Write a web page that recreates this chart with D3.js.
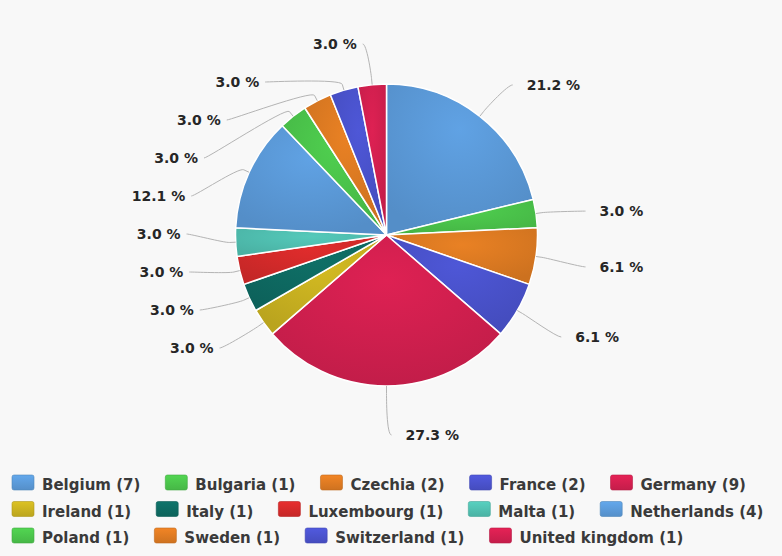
<!DOCTYPE html>
<html>
<head>
<meta charset="utf-8">
<script src="https://cdn.jsdelivr.net/npm/d3@7"></script>
<style>
html,body{margin:0;padding:0;background:#f8f8f8;}
svg{display:block;}
</style>
</head>
<body>
<svg id="chart" width="782" height="556"></svg>
<script>
// ---- data ----
const countries = ["Belgium","Bulgaria","Czechia","France","Germany","Ireland","Italy","Luxembourg","Malta","Netherlands","Poland","Sweden","Switzerland","United kingdom"];
const counts = [7,1,2,2,9,1,1,1,1,4,1,1,1,1];
const palette = ["#5b9ad8","#4bc44b","#dd7a22","#4a52cc","#d21f4f","#c9b120","#0e6a62","#d42a2a","#50bfb0"];

// ---- layout ----
const W = 782, H = 556;
const cx = 386.5, cy = 235, r = 151, labelDist = 45, R = r + labelDist;
const svg = d3.select("#chart");
svg.append("rect").attr("width", W).attr("height", H).attr("fill", "#f8f8f8");

const data = countries.map((c, i) => ({ name: c, count: counts[i], i }));
const total = d3.sum(counts);
const color = d3.scaleOrdinal(countries, palette);
const pct = v => d3.format(".1f")(v / total * 100) + " %";

const defs = svg.append("defs");
data.forEach(d => {
  const base = d3.color(color(d.name));
  const g = defs.append("radialGradient").attr("id", "g" + d.i)
    .attr("cx", 0.5).attr("cy", 0.3).attr("r", 0.7);
  g.append("stop").attr("offset", 0).attr("stop-color", base.brighter(0.15).formatHex());
  g.append("stop").attr("offset", 1).attr("stop-color", base.darker(0.22).formatHex());
  const lg = defs.append("linearGradient").attr("id", "l" + d.i).attr("x1", 0).attr("y1", 0).attr("x2", 0).attr("y2", 1);
  lg.append("stop").attr("offset", 0).attr("stop-color", base.brighter(0.25).formatHex());
  lg.append("stop").attr("offset", 1).attr("stop-color", base.darker(0.2).formatHex());
});

const pie = d3.pie().sort(null).value(d => d.count);
const arcs = pie(data);
const arc = d3.arc().innerRadius(0).outerRadius(r);

const pieG = svg.append("g").attr("transform", `translate(${cx},${cy})`);
pieG.selectAll("path").data(arcs).join("path")
  .attr("d", arc)
  .attr("fill", d => `url(#g${d.data.i})`)
  .attr("stroke", "#ffffff")
  .attr("stroke-width", 1.5)
  .attr("stroke-linejoin", "round");

// ---- data labels (Highcharts-like slot distribution) ----
const labels = arcs.map(d => {
  const a = (d.startAngle + d.endAngle) / 2;
  return { d, a, side: a <= Math.PI + 1e-9 ? 1 : -1, ny: cy - R * Math.cos(a) };
});
const slotH = 38, minGap = 24;
function layoutSide(side) {
  const L = labels.filter(l => l.side === side).sort((p, q) => p.ny - q.ny);
  let crowded = false;
  for (let k = 1; k < L.length; k++) if (L[k].ny - L[k - 1].ny < minGap) crowded = true;
  if (!crowded) { L.forEach(l => l.y = l.ny); return; }
  const slots = [];
  for (let y = cy - R + 1; y <= cy + R; y += slotH) slots.push({ y, used: false });
  L.forEach(l => {
    let best = null;
    slots.forEach(s => {
      if (!s.used && (best === null || Math.abs(s.y - l.ny) < Math.abs(best.y - l.ny))) best = s;
    });
    best.used = true; l.y = best.y;
  });
  const ys = L.map(l => l.y).sort((a, b) => a - b);
  L.forEach((l, k) => l.y = ys[k]);
}
layoutSide(1); layoutSide(-1);

const getX = (y, side) => cx + side * Math.sqrt(Math.max(0, R * R - (y - cy) * (y - cy)));
const lblG = svg.append("g");
labels.forEach(l => {
  const gx = getX(l.y, l.side);
  const bx = cx + r * Math.sin(l.a), by = cy - r * Math.cos(l.a);
  const kx = cx + (r + 6) * Math.sin(l.a), ky = cy - (r + 6) * Math.cos(l.a);
  const qx = 2 * kx - bx, qy = 2 * ky - by;
  const ex = gx + (l.side > 0 ? 5 : -4);
  const vy = l.y + 4;
  lblG.append("path")
    .attr("d", `M${ex},${vy}C${gx},${vy} ${qx},${qy} ${kx},${ky}L${bx},${by}`)
    .attr("fill", "none").attr("stroke", "#b4b4b4").attr("stroke-width", 1);
  lblG.append("text")
    .attr("x", l.side > 0 ? gx + 19 : gx - 10)
    .attr("y", vy).attr("dy", "0.36em")
    .attr("text-anchor", l.side > 0 ? "start" : "end")
    .attr("font-family", "DejaVu Sans, Verdana, sans-serif")
    .attr("font-weight", "bold").attr("font-size", 14)
    .attr("fill", "#262626")
    .text(pct(l.d.data.count));
});

// ---- legend (flow layout) ----
const legend = svg.append("g");
const lx0 = 12, ly0 = 475, rowH = 26.5, maxX = 772, symW = 22, symH = 15, textGap = 30, itemGap = 25;
let lx = lx0, row = 0;
data.forEach(d => {
  const g = legend.append("g");
  const t = g.append("text")
    .attr("x", textGap).attr("y", 15)
    .attr("font-family", "DejaVu Sans, Verdana, sans-serif")
    .attr("font-weight", "bold").attr("font-size", 15)
    .attr("fill", "#3a3a3a")
    .text(`${d.name} (${d.count})`);
  const w = t.node().getComputedTextLength();
  const itemW = textGap + w;
  if (lx + itemW > maxX && lx > lx0) { row++; lx = lx0; }
  g.attr("transform", `translate(${lx},${ly0 + row * rowH})`);
  g.insert("rect", "text")
    .attr("x", 0).attr("y", 0).attr("width", symW).attr("height", symH)
    .attr("rx", 2).attr("fill", `url(#l${d.i})`)
    .attr("stroke", d3.color(color(d.name)).darker(0.4).formatHex()).attr("stroke-width", 0.6);
  lx += itemW + itemGap;
});
</script>
</body>
</html>
